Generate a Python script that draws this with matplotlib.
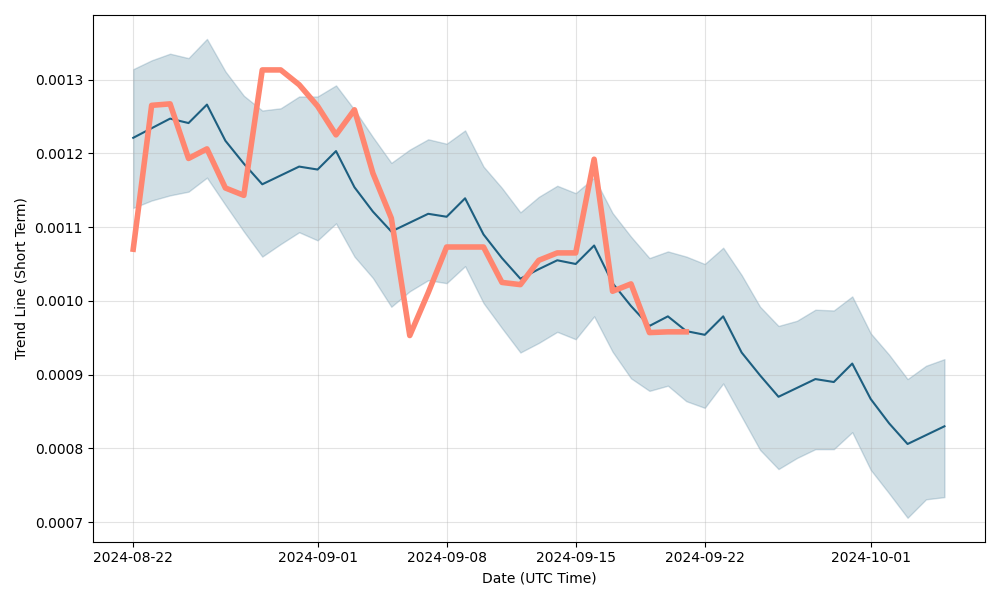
import matplotlib
matplotlib.use("Agg")
import matplotlib.pyplot as plt
import numpy as np
import pandas as pd

# DATA - - - - - - - - - - - - - - - - - - - - - - - - - - - - - - - - - - - - - - - - - - - -
dates = pd.date_range("2024-08-22", "2024-10-05", freq="D")

trend = [0.001221, 0.001234, 0.001247, 0.001241, 0.001266, 0.001217, 0.001186, 0.001158,
         0.001170, 0.001182, 0.001178, 0.001203, 0.001154, 0.001121, 0.001094, 0.001106,
         0.001118, 0.001114, 0.001139, 0.001090, 0.001058, 0.001030, 0.001043, 0.001055,
         0.001050, 0.001075, 0.001024, 0.000993, 0.000966, 0.000979, 0.000959, 0.000954,
         0.000979, 0.000930, 0.000899, 0.000870, 0.000882, 0.000894, 0.000890, 0.000915,
         0.000867, 0.000834, 0.000806, 0.000818, 0.000830]

upper = [0.001314, 0.001326, 0.001335, 0.001329, 0.001355, 0.001311, 0.001278, 0.001258,
         0.001261, 0.001277, 0.001277, 0.001292, 0.001259, 0.001222, 0.001187, 0.001205,
         0.001219, 0.001213, 0.001231, 0.001182, 0.001153, 0.001120, 0.001141, 0.001156,
         0.001146, 0.001167, 0.001119, 0.001087, 0.001058, 0.001067, 0.001060, 0.001050,
         0.001072, 0.001035, 0.000992, 0.000966, 0.000973, 0.000988, 0.000987, 0.001006,
         0.000956, 0.000927, 0.000894, 0.000912, 0.000921]

lower = [0.001126, 0.001136, 0.001143, 0.001148, 0.001167, 0.001130, 0.001094, 0.001060,
         0.001077, 0.001093, 0.001082, 0.001105, 0.001060, 0.001031, 0.000992, 0.001013,
         0.001028, 0.001024, 0.001047, 0.000997, 0.000963, 0.000930, 0.000943, 0.000958,
         0.000948, 0.000979, 0.000931, 0.000895, 0.000878, 0.000885, 0.000864, 0.000855,
         0.000888, 0.000843, 0.000798, 0.000772, 0.000787, 0.000799, 0.000799, 0.000822,
         0.000771, 0.000739, 0.000706, 0.000731, 0.000734]

price = [0.001070, 0.001265, 0.001267, 0.001193, 0.001206, 0.001153, 0.001143, 0.001313,
         0.001313, 0.001293, 0.001264, 0.001225, 0.001259, 0.001173, 0.001112, 0.000953,
         0.001011, 0.001073, 0.001073, 0.001073, 0.001025, 0.001022, 0.001055, 0.001065,
         0.001065, 0.001192, 0.001013, 0.001023, 0.000957, 0.000958, 0.000958]

# PLOT - - - - - - - - - - - - - - - - - - - - - - - - - - - - - - - - - - - - - - - - - - - -
blue = "#1d5f80"
fig, ax = plt.subplots(figsize=(10, 6), dpi=100)
ax.fill_between(dates, lower, upper, color=blue, alpha=0.2)
ax.plot(dates, trend, color=blue, linewidth=1.5)
ax.plot(dates[:len(price)], price, color="#ff8670", linewidth=4)

ax.set_xlabel("Date (UTC Time)")
ax.set_ylabel("Trend Line (Short Term)")
ax.grid(True, alpha=0.35)

fig.tight_layout()
fig.savefig("out.png")
